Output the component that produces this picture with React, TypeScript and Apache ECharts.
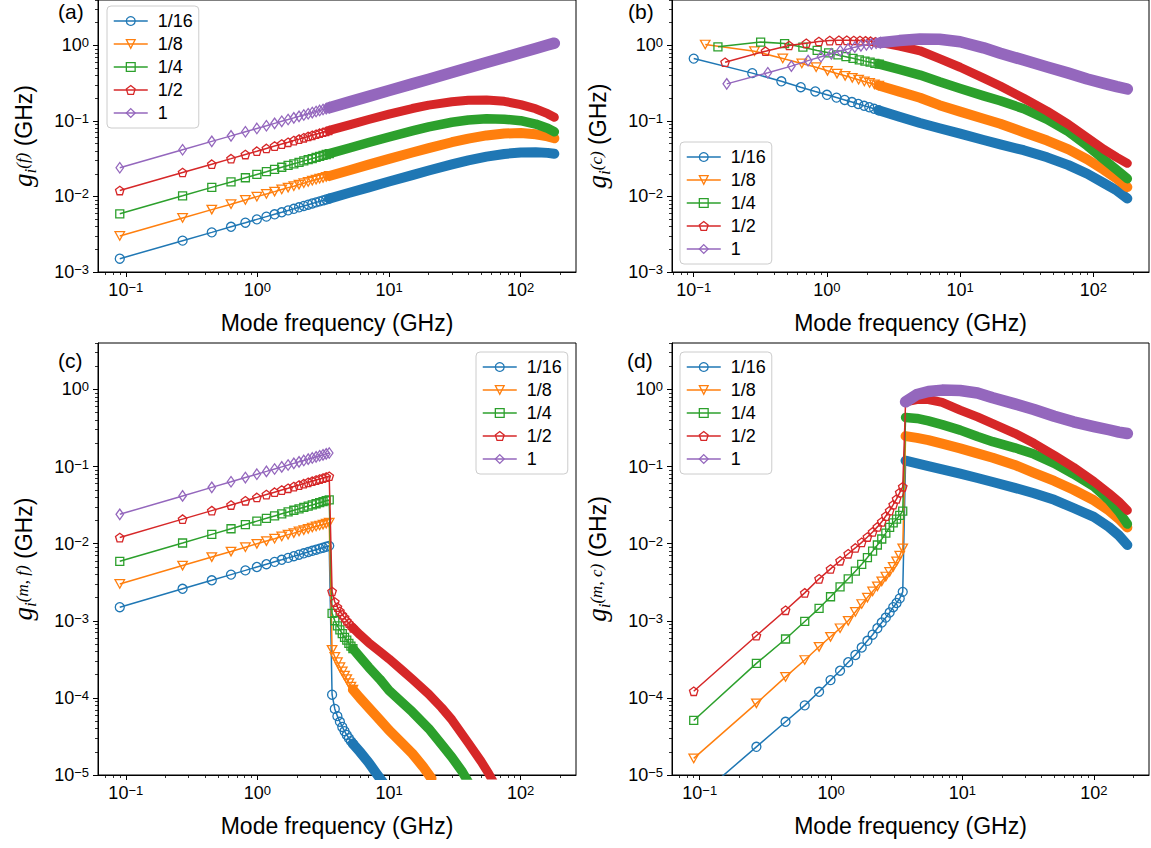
import { useEffect, useRef } from 'react';
import * as echarts from 'echarts';

type Pt = [number, number];

const SANS = '"Liberation Sans", Arial, sans-serif';
const SERIF = '"Liberation Serif", "DejaVu Serif", serif';

const NAMES = ['1/16', '1/8', '1/4', '1/2', '1'];
const COLORS = ['#1f77b4', '#ff7f0e', '#2ca02c', '#d62728', '#9467bd'];
const SYMBOLS = [
  'circle',
  'path://M0,0L10,0L5,8.66Z',
  'rect',
  'path://M5,0L9.76,3.45L7.94,9.05L2.06,9.05L0.24,3.45Z',
  'diamond',
];
const SYMBOL_SIZES: any[] = [9, [9.5, 8.5], 8, 8.5, [7.5, 10.5]];
const BAND_W = [10, 10, 9.5, 9, 11.5];

// tick values
const X_MAJOR = [0.1, 1, 10, 100];
const X_MINOR = [0.07, 0.08, 0.09, 0.2, 0.3, 0.4, 0.5, 0.6, 0.7, 0.8, 0.9, 2, 3, 4, 5, 6, 7, 8, 9, 20, 30, 40, 50, 60, 70, 80, 90, 200];
const Y_MAJOR_TOP = [0.001, 0.01, 0.1, 1];
const Y_MINOR_TOP = [0.002, 0.003, 0.004, 0.005, 0.006, 0.007, 0.008, 0.009, 0.02, 0.03, 0.04, 0.05, 0.06, 0.07, 0.08, 0.09, 0.2, 0.3, 0.4, 0.5, 0.6, 0.7, 0.8, 0.9, 2, 3, 4];
const Y_MAJOR_BOT = [1e-5, 1e-4, 1e-3, 1e-2, 1e-1, 1];
const Y_MINOR_BOT = [2e-5, 3e-5, 4e-5, 5e-5, 6e-5, 7e-5, 8e-5, 9e-5, 2e-4, 3e-4, 4e-4, 5e-4, 6e-4, 7e-4, 8e-4, 9e-4, 0.002, 0.003, 0.004, 0.005, 0.006, 0.007, 0.008, 0.009, 0.02, 0.03, 0.04, 0.05, 0.06, 0.07, 0.08, 0.09, 0.2, 0.3, 0.4, 0.5, 0.6, 0.7, 0.8, 0.9, 2, 3, 4];

// low-frequency modes (GHz), panels (a), (c), (d)
const F_LOW = [0.09, 0.27, 0.45, 0.63, 0.81, 0.99, 1.17, 1.35, 1.53, 1.71, 1.89, 2.07, 2.25, 2.43, 2.61, 2.79, 2.97, 3.15, 3.33, 3.51];

// panel (a) g^(f) — low modes (also panel (c) below the cut-off)
const A_LOW_116 = [0.0015, 0.0026, 0.00335, 0.00397, 0.0045, 0.00498, 0.00541, 0.00581, 0.00618, 0.00654, 0.00687, 0.00719, 0.0075, 0.00779, 0.00808, 0.00835, 0.00862, 0.00887, 0.00912, 0.00937];
const A_LOW_18 = [0.003, 0.0052, 0.0067, 0.0079, 0.009, 0.00995, 0.0108, 0.0116, 0.0124, 0.0131, 0.0137, 0.0144, 0.015, 0.0156, 0.0162, 0.0167, 0.0172, 0.0177, 0.0182, 0.0187];
const A_LOW_14 = [0.0059, 0.0102, 0.0132, 0.0156, 0.0177, 0.0196, 0.0213, 0.0229, 0.0244, 0.0258, 0.0271, 0.0283, 0.0296, 0.0307, 0.0318, 0.0329, 0.034, 0.035, 0.036, 0.0369];
const A_LOW_12 = [0.012, 0.0208, 0.0268, 0.0317, 0.036, 0.0398, 0.0433, 0.0465, 0.0495, 0.0523, 0.055, 0.0575, 0.06, 0.0624, 0.0646, 0.0668, 0.0689, 0.071, 0.073, 0.0749];
const A_LOW_1 = [0.024, 0.0416, 0.0537, 0.0635, 0.072, 0.0796, 0.0865, 0.093, 0.099, 0.1046, 0.11, 0.1151, 0.12, 0.1247, 0.1292, 0.1336, 0.1379, 0.142, 0.146, 0.1499];

// panel (a) dense high-frequency part
const A_TAIL_F = [5, 7, 10, 15, 20, 30, 40, 55, 75, 100, 130, 160, 180];
const A_TAIL_116 = [0.0112, 0.0132, 0.0158, 0.0192, 0.0221, 0.0266, 0.03, 0.0337, 0.0366, 0.0383, 0.0385, 0.0378, 0.0368];
const A_TAIL_18 = [0.0223, 0.0264, 0.0315, 0.0383, 0.0438, 0.0523, 0.0584, 0.0644, 0.0682, 0.0693, 0.0665, 0.0625, 0.059];
const A_TAIL_14 = [0.0439, 0.0518, 0.0614, 0.0739, 0.0834, 0.0961, 0.1032, 0.1068, 0.1054, 0.101, 0.091, 0.08, 0.072];
const A_TAIL_12 = [0.0888, 0.1045, 0.1232, 0.1462, 0.1622, 0.18, 0.188, 0.19, 0.182, 0.165, 0.145, 0.125, 0.112];
const A_TAIL_1 = [0.1789, 0.2117, 0.253, 0.3098, 0.3578, 0.4382, 0.506, 0.5933, 0.6928, 0.8, 0.912, 1.012, 1.073];

// panel (b) g^(c) — low modes
const B_F_116 = [0.1, 0.275, 0.455, 0.636, 0.818, 1.0, 1.18, 1.36, 1.54, 1.72, 1.9, 2.08, 2.26, 2.44];
const B_G_116 = [0.67, 0.43, 0.335, 0.28, 0.246, 0.222, 0.204, 0.19, 0.178, 0.168, 0.159, 0.152, 0.145, 0.139];
const B_F_18 = [0.122, 0.286, 0.466, 0.648, 0.83, 1.01, 1.19, 1.37, 1.55, 1.73, 1.91, 2.09, 2.27, 2.45];
const B_G_18 = [1.03, 0.84, 0.673, 0.578, 0.515, 0.462, 0.425, 0.396, 0.372, 0.352, 0.334, 0.319, 0.306, 0.295];
const B_F_14 = [0.152, 0.318, 0.481, 0.66, 0.845, 1.03, 1.21, 1.39, 1.57, 1.75, 1.93, 2.11, 2.29, 2.47];
const B_G_14 = [0.96, 1.11, 1.06, 0.95, 0.86, 0.8, 0.75, 0.71, 0.675, 0.645, 0.62, 0.6, 0.58, 0.565];
const B_F_12 = [0.172, 0.346, 0.52, 0.7, 0.87, 1.05, 1.23, 1.41, 1.59, 1.77, 1.95, 2.13, 2.31, 2.49];
const B_G_12 = [0.6, 0.84, 1.0, 1.07, 1.13, 1.16, 1.17, 1.17, 1.165, 1.16, 1.15, 1.14, 1.12, 1.1];
const B_F_1 = [0.177, 0.36, 0.541, 0.722, 0.903, 1.08, 1.26, 1.44, 1.62, 1.8, 1.98, 2.16, 2.34, 2.52];
const B_G_1 = [0.31, 0.435, 0.533, 0.63, 0.71, 0.775, 0.85, 0.9, 0.95, 0.99, 1.02, 1.05, 1.07, 1.09];

// panel (b) dense part
const B_TAIL_F = [3.5, 5, 7, 10, 15, 20, 30, 45, 65, 90, 120, 150, 180];
const B_TAIL_116 = [0.114, 0.094, 0.08, 0.068, 0.056, 0.049, 0.041, 0.033, 0.026, 0.02, 0.015, 0.012, 0.0094];
const B_TAIL_18 = [0.245, 0.203, 0.162, 0.133, 0.107, 0.092, 0.071, 0.055, 0.042, 0.031, 0.0225, 0.0172, 0.0133];
const B_TAIL_14 = [0.48, 0.405, 0.33, 0.27, 0.215, 0.185, 0.145, 0.105, 0.072, 0.047, 0.031, 0.0225, 0.0172];
const B_TAIL_12 = [0.98, 0.85, 0.67, 0.515, 0.37, 0.29, 0.2, 0.135, 0.09, 0.06, 0.042, 0.033, 0.0275];
const B_TAIL_1 = [1.16, 1.22, 1.21, 1.12, 0.93, 0.79, 0.64, 0.52, 0.43, 0.36, 0.315, 0.285, 0.265];

// panel (c) g^(m,f) — modes just above the cut-off
const C_POST_F = [3.69, 3.87, 4.05, 4.23, 4.41, 4.59, 4.77, 4.95, 5.13, 5.31];
const C_POST_116 = [1.1e-4, 7.2e-5, 5.8e-5, 4.9e-5, 4.2e-5, 3.7e-5, 3.3e-5, 3.0e-5, 2.75e-5, 2.55e-5];
const C_POST_18 = [4.2e-4, 3.4e-4, 2.9e-4, 2.5e-4, 2.2e-4, 1.95e-4, 1.75e-4, 1.55e-4, 1.4e-4, 1.28e-4];
const C_POST_14 = [1.25e-3, 1.0e-3, 8.6e-4, 7.6e-4, 6.8e-4, 6.1e-4, 5.6e-4, 5.1e-4, 4.7e-4, 4.35e-4];
const C_POST_12 = [2.4e-3, 1.75e-3, 1.5e-3, 1.33e-3, 1.2e-3, 1.1e-3, 1.0e-3, 9.3e-4, 8.7e-4, 8.1e-4];

// panel (c) dense decaying part [f, g]
const C_TAIL_116: Pt[] = [[6, 2.0e-5], [7, 1.45e-5], [8, 1.05e-5], [9, 8e-6]];
const C_TAIL_18: Pt[] = [[6, 1.0e-4], [7, 7.5e-5], [8.5, 5.2e-5], [10, 3.8e-5], [12.5, 2.6e-5], [15, 1.9e-5], [18, 1.3e-5], [21, 9e-6]];
const C_TAIL_14: Pt[] = [[6, 3.4e-4], [7, 2.5e-4], [8.5, 1.75e-4], [10, 1.25e-4], [12.5, 8.8e-5], [15, 6.6e-5], [20, 4.0e-5], [25, 2.5e-5], [30, 1.7e-5], [36, 1.1e-5], [42, 7e-6]];
const C_TAIL_12: Pt[] = [[6, 6.6e-4], [7, 5.2e-4], [8.5, 4.0e-4], [10, 3.2e-4], [12.5, 2.3e-4], [15, 1.75e-4], [20, 1.12e-4], [25, 7.5e-5], [30, 5.2e-5], [40, 2.6e-5], [50, 1.5e-5], [57, 1.05e-5], [65, 7e-6]];

// panel (d) g^(m,c) — low modes
const D_LOW_116 = [4.6e-6, 2.32e-5, 4.9e-5, 8.0e-5, 1.2e-4, 1.7e-4, 2.25e-4, 2.9e-4, 3.6e-4, 4.5e-4, 5.5e-4, 6.6e-4, 8.0e-4, 9.5e-4, 1.1e-3, 1.28e-3, 1.5e-3, 1.7e-3, 1.95e-3, 2.37e-3];
const D_LOW_18 = [1.64e-5, 8.5e-5, 1.87e-4, 3.1e-4, 4.6e-4, 6.2e-4, 8.0e-4, 1.0e-3, 1.3e-3, 1.65e-3, 2.0e-3, 2.4e-3, 2.8e-3, 3.25e-3, 3.75e-3, 4.3e-3, 5.0e-3, 5.9e-3, 7.0e-3, 8.7e-3];
const D_LOW_14 = [5.1e-5, 2.8e-4, 5.8e-4, 9.8e-4, 1.45e-3, 2.05e-3, 2.75e-3, 3.5e-3, 4.4e-3, 5.4e-3, 6.6e-3, 8.0e-3, 9.6e-3, 0.0115, 0.0137, 0.0163, 0.0186, 0.0208, 0.0233, 0.0264];
const D_LOW_12 = [1.22e-4, 6.4e-4, 1.37e-3, 2.3e-3, 3.5e-3, 4.7e-3, 6.0e-3, 7.4e-3, 8.8e-3, 0.0104, 0.0122, 0.0142, 0.0165, 0.0192, 0.0228, 0.0268, 0.032, 0.038, 0.046, 0.0546];

// panel (d) dense part above the cut-off
const D_TAIL_F = [3.69, 4.5, 5.5, 7, 9.6, 13, 17, 25, 35, 50, 70, 100, 130, 155, 180];
const D_TAIL_116 = [0.119, 0.11, 0.101, 0.092, 0.081, 0.071, 0.063, 0.053, 0.045, 0.037, 0.029, 0.0222, 0.0165, 0.0128, 0.0096];
const D_TAIL_18 = [0.248, 0.235, 0.22, 0.198, 0.172, 0.148, 0.13, 0.105, 0.083, 0.065, 0.05, 0.0365, 0.027, 0.021, 0.0162];
const D_TAIL_14 = [0.433, 0.42, 0.39, 0.35, 0.297, 0.245, 0.21, 0.175, 0.145, 0.11, 0.08, 0.055, 0.037, 0.026, 0.018];
const D_TAIL_12 = [0.69, 0.74, 0.74, 0.68, 0.54, 0.44, 0.36, 0.27, 0.2, 0.14, 0.098, 0.064, 0.045, 0.035, 0.027];
const D_TAIL_1 = [0.69, 0.86, 0.94, 0.98, 0.97, 0.9, 0.78, 0.65, 0.55, 0.45, 0.38, 0.33, 0.3, 0.28, 0.268];

const zip = (xs: number[], ys: number[]): Pt[] => xs.map((x, i) => [x, ys[i]] as Pt);

type Curve = { markers: Pt[]; band: Pt[]; join: boolean };

const A_LOW = [A_LOW_116, A_LOW_18, A_LOW_14, A_LOW_12, A_LOW_1];
const A_TAIL = [A_TAIL_116, A_TAIL_18, A_TAIL_14, A_TAIL_12, A_TAIL_1];
const B_F = [B_F_116, B_F_18, B_F_14, B_F_12, B_F_1];
const B_G = [B_G_116, B_G_18, B_G_14, B_G_12, B_G_1];
const B_TAIL = [B_TAIL_116, B_TAIL_18, B_TAIL_14, B_TAIL_12, B_TAIL_1];
const C_POST = [C_POST_116, C_POST_18, C_POST_14, C_POST_12];
const C_TAIL = [C_TAIL_116, C_TAIL_18, C_TAIL_14, C_TAIL_12];
const D_LOW = [D_LOW_116, D_LOW_18, D_LOW_14, D_LOW_12];
const D_TAIL = [D_TAIL_116, D_TAIL_18, D_TAIL_14, D_TAIL_12, D_TAIL_1];

const curvesA: Curve[] = NAMES.map((_, i) => ({ markers: zip(F_LOW, A_LOW[i]), band: zip(A_TAIL_F, A_TAIL[i]), join: true }));
const curvesB: Curve[] = NAMES.map((_, i) => ({ markers: zip(B_F[i], B_G[i]), band: zip(B_TAIL_F, B_TAIL[i]), join: true }));
const curvesC: Curve[] = NAMES.map((_, i) =>
  i < 4
    ? { markers: zip(F_LOW, A_LOW[i]).concat(zip(C_POST_F, C_POST[i])), band: C_TAIL[i], join: true }
    : { markers: zip(F_LOW, A_LOW[i]), band: [], join: true }
);
const curvesD: Curve[] = NAMES.map((_, i) =>
  i < 4
    ? { markers: zip(F_LOW, D_LOW[i]), band: zip(D_TAIL_F, D_TAIL[i]), join: false }
    : { markers: [], band: zip(D_TAIL_F, D_TAIL[i]), join: false }
);

const PANELS = [
  { grid: { left: 98, top: -1, width: 478, height: 273 }, xMin: 0.0615, xMax: 263, yMin: 1e-3, yMax: 4, yMajor: Y_MAJOR_TOP, yMinor: Y_MINOR_TOP, sup: '(f)', tag: '(a)', tagX: 58, tagY: 1, legend: { left: 107, top: 6 }, nameGap: 53, curves: curvesA },
  { grid: { left: 672, top: -1, width: 477, height: 273 }, xMin: 0.0687, xMax: 261.8, yMin: 1e-3, yMax: 4, yMajor: Y_MAJOR_TOP, yMinor: Y_MINOR_TOP, sup: '(c)', tag: '(b)', tagX: 628, tagY: 1, legend: { left: 680, top: 142 }, nameGap: 49, curves: curvesB },
  { grid: { left: 98, top: 343, width: 478, height: 432 }, xMin: 0.0615, xMax: 263, yMin: 1e-5, yMax: 4, yMajor: Y_MAJOR_BOT, yMinor: Y_MINOR_BOT, sup: '(m, f)', tag: '(c)', tagX: 58, tagY: 350, legend: { left: 476, top: 352 }, nameGap: 53, curves: curvesC },
  { grid: { left: 672, top: 343, width: 477, height: 432 }, xMin: 0.0615, xMax: 263, yMin: 1e-5, yMax: 4, yMajor: Y_MAJOR_BOT, yMinor: Y_MINOR_BOT, sup: '(m, c)', tag: '(d)', tagX: 627, tagY: 350, legend: { left: 680, top: 352 }, nameGap: 49, curves: curvesD },
];

const fmtPow = (v: number) => {
  const e = Math.round(Math.log10(v));
  return `{b|10}{s|${e < 0 ? '\u2212' + -e : e}}`;
};

const TICK_RICH = {
  b: { fontSize: 18, fontFamily: SANS, color: '#000', lineHeight: 18, padding: [7, 0, 0, 0], verticalAlign: 'bottom' },
  s: { fontSize: 13, fontFamily: SANS, color: '#000', lineHeight: 13, verticalAlign: 'top' },
};

const NAME_RICH = {
  g: { fontSize: 27, fontFamily: SERIF, fontStyle: 'italic', color: '#000', lineHeight: 27, padding: [0, 0, 5, 0], verticalAlign: 'bottom' },
  i: { fontSize: 17, fontFamily: SERIF, fontStyle: 'italic', color: '#000', lineHeight: 17, padding: [0, 0, 2, 0], verticalAlign: 'bottom' },
  p: { fontSize: 17, fontFamily: SERIF, fontStyle: 'italic', color: '#000', lineHeight: 17, padding: [0, 0, 19, 0], verticalAlign: 'top' },
  u: { fontSize: 23, fontFamily: SANS, color: '#000', lineHeight: 23, padding: [0, 0, 6, 0], verticalAlign: 'bottom' },
};

function buildOption() {
  const grid: any[] = [];
  const xAxis: any[] = [];
  const yAxis: any[] = [];
  const series: any[] = [];
  const legend: any[] = [];
  const graphic: any[] = [];

  PANELS.forEach((p, k) => {
    grid.push({ ...p.grid, show: true, borderColor: '#000', borderWidth: 1, backgroundColor: 'transparent' });
    const xb = { type: 'log', logBase: 10, gridIndex: k, min: p.xMin, max: p.xMax, splitLine: { show: false }, position: 'bottom' };
    xAxis.push({
      ...xb,
      axisLine: { show: true, onZero: false, lineStyle: { color: '#000', width: 1 } },
      axisTick: { show: true, length: 5, lineStyle: { color: '#000', width: 1 }, customValues: X_MAJOR },
      axisLabel: { show: true, customValues: X_MAJOR, formatter: fmtPow, rich: TICK_RICH, margin: 9, color: '#000' },
      name: 'Mode frequency (GHz)',
      nameLocation: 'middle',
      nameGap: 39,
      nameTextStyle: { fontSize: 23, fontFamily: SANS, color: '#000' },
    });
    xAxis.push({
      ...xb,
      axisLine: { show: false, onZero: false },
      axisTick: { show: true, length: 3, lineStyle: { color: '#000', width: 0.8 }, customValues: X_MINOR },
      axisLabel: { show: false },
    });
    const yb = { type: 'log', logBase: 10, gridIndex: k, min: p.yMin, max: p.yMax, splitLine: { show: false }, position: 'left' };
    yAxis.push({
      ...yb,
      axisLine: { show: true, onZero: false, lineStyle: { color: '#000', width: 1 } },
      axisTick: { show: true, length: 5, lineStyle: { color: '#000', width: 1 }, customValues: p.yMajor },
      axisLabel: { show: true, customValues: p.yMajor, formatter: fmtPow, rich: TICK_RICH, margin: 9, color: '#000' },
      name: `{g|g}{i|i}{p|${p.sup}}{u| (GHz)}`,
      nameLocation: 'middle',
      nameGap: p.nameGap,
      nameTextStyle: { rich: NAME_RICH, color: '#000' },
    });
    yAxis.push({
      ...yb,
      axisLine: { show: false, onZero: false },
      axisTick: { show: true, length: 3, lineStyle: { color: '#000', width: 0.8 }, customValues: p.yMinor },
      axisLabel: { show: false },
    });

    p.curves.forEach((c, i) => {
      const col = COLORS[i];
      if (c.markers.length) {
        const data: any[] = c.markers.map((pt) => pt);
        if (c.band.length && !c.join) data.push({ value: c.band[0], symbol: 'none' });
        series.push({
          type: 'line',
          name: NAMES[i],
          xAxisIndex: 2 * k,
          yAxisIndex: 2 * k,
          data,
          symbol: SYMBOLS[i],
          symbolSize: SYMBOL_SIZES[i],
          showSymbol: true,
          lineStyle: { color: col, width: 1.5 },
          itemStyle: { color: 'rgba(255,255,255,0)', borderColor: col, borderWidth: 1.3 },
          emphasis: { disabled: true },
          z: 2 + i,
          clip: true,
        });
      }
      if (c.band.length) {
        const data: Pt[] = c.join && c.markers.length ? [c.markers[c.markers.length - 1], ...c.band] : c.band;
        series.push({
          type: 'line',
          name: NAMES[i] + ' dense',
          xAxisIndex: 2 * k,
          yAxisIndex: 2 * k,
          data,
          symbol: 'none',
          lineStyle: { color: col, width: BAND_W[i], cap: 'round', join: 'round' },
          emphasis: { disabled: true },
          z: 2 + i,
          clip: true,
        });
      }
    });

    legend.push({
      data: NAMES.map((n, i) => ({
        name: n,
        itemStyle: { color: 'rgba(255,255,255,0)', borderColor: COLORS[i], borderWidth: 1.3 },
        lineStyle: { color: COLORS[i], width: 1.5 },
      })),
      left: p.legend.left,
      top: p.legend.top,
      orient: 'vertical',
      itemWidth: 34,
      itemHeight: 11,
      itemGap: 3,
      selectedMode: false,
      backgroundColor: 'rgba(255,255,255,0.8)',
      borderColor: '#cccccc',
      borderWidth: 1,
      borderRadius: 4,
      padding: [5, 6, 5, 6],
      textStyle: { fontSize: 18, fontFamily: SANS, color: '#000', lineHeight: 20, padding: [0, 0, 0, 5] },
      z: 20,
    });

    graphic.push({
      type: 'text',
      x: p.tagX,
      y: p.tagY,
      style: { text: p.tag, fontSize: 21, fontFamily: SANS, fill: '#000', align: 'left', verticalAlign: 'top' },
      z: 30,
    });
  });

  return {
    animation: false,
    backgroundColor: '#fff',
    textStyle: { fontFamily: SANS },
    grid,
    xAxis,
    yAxis,
    series,
    legend,
    graphic,
  };
}

export default function App() {
  const ref = useRef<HTMLDivElement>(null);
  useEffect(() => {
    const chart = echarts.init(ref.current!, null, { renderer: 'svg' });
    chart.setOption(buildOption() as any);
    return () => chart.dispose();
  }, []);
  return (
    <div
      ref={ref}
      style={{ position: 'fixed', left: 0, top: 0, width: 1151, height: 848, background: '#fff' }}
    />
  );
}
